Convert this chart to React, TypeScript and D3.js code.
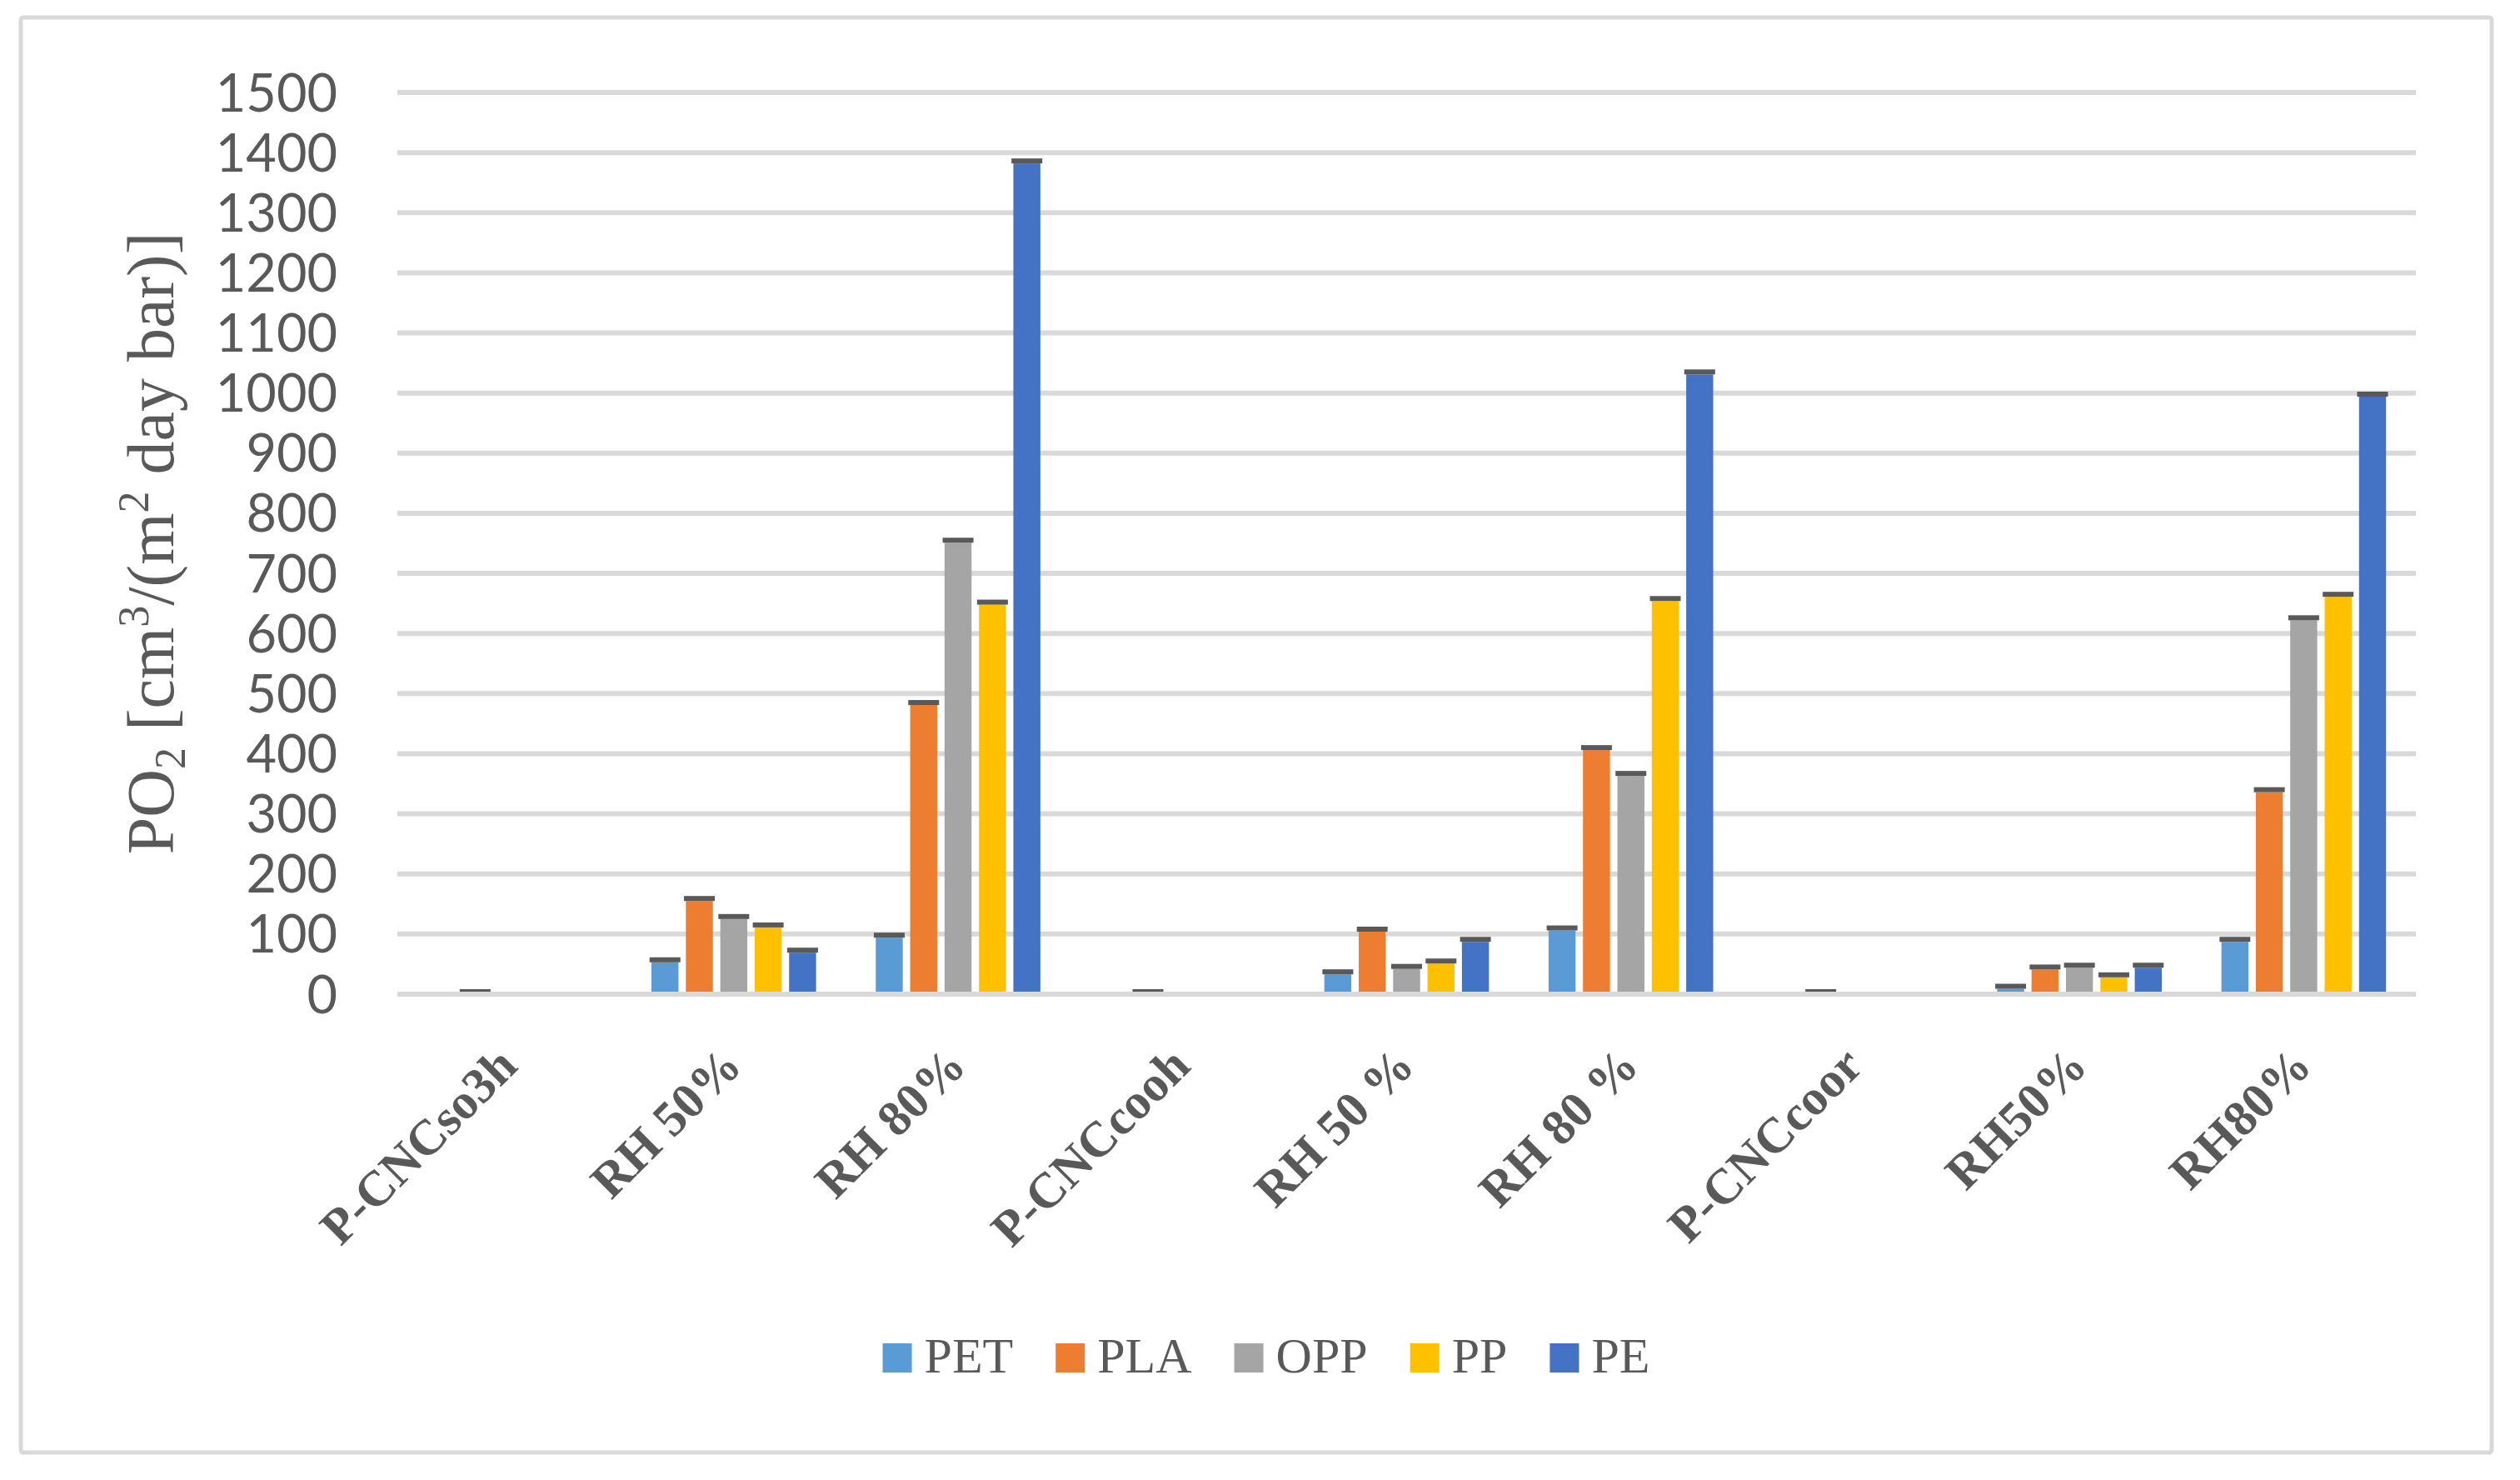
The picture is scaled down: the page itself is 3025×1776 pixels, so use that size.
import React, { useEffect, useRef } from 'react';
import * as d3 from 'd3';

const categories = ['P-CNCso3h', 'RH 50%', 'RH 80%', 'P-CNCcooh', 'RH 50 %', 'RH 80 %', 'P-CNCcoor', 'RH50%', 'RH80%'];
const seriesNames = ['PET', 'PLA', 'OPP', 'PP', 'PE'];
const seriesColors = ['#5B9BD5', '#ED7D31', '#A5A5A5', '#FFC000', '#4472C4'];

const petValues = [null, 53, 94, null, 33, 106, null, 9, 87];
const plaValues = [0, 155, 481, 0, 104, 406, 0, 41, 336];
const oppValues = [null, 125, 751, null, 42, 363, null, 44, 622];
const ppValues = [null, 111, 648, null, 51, 654, null, 28, 661];
const peValues = [null, 69, 1382, null, 87, 1031, null, 44, 994];

const yTicks = [0, 100, 200, 300, 400, 500, 600, 700, 800, 900, 1000, 1100, 1200, 1300, 1400, 1500];

const W = 3025, H = 1776;
const plot = { left: 477, right: 2900, top: 111, bottom: 1193 };
const textColor = '#595959';
const gridColor = '#D9D9D9';

const App: React.FC = () => {
  const ref = useRef<SVGSVGElement>(null);

  useEffect(() => {
    document.body.style.margin = '0';
    if (!ref.current) return;
    const svg = d3.select(ref.current);
    svg.selectAll('*').remove();

    const values = [petValues, plaValues, oppValues, ppValues, peValues];

    // chart frame
    svg.append('rect')
      .attr('x', 25).attr('y', 21)
      .attr('width', 2966).attr('height', 1722)
      .attr('rx', 3)
      .attr('fill', '#fff')
      .attr('stroke', gridColor)
      .attr('stroke-width', 5);

    const y = d3.scaleLinear().domain([0, 1500]).range([plot.bottom, plot.top]);
    const x0 = d3.scaleBand<string>().domain(categories).range([plot.left, plot.right]).padding(0);
    const x1 = d3.scaleBand<string>()
      .domain(seriesNames)
      .range([0, x0.bandwidth()])
      .paddingInner(0.215)
      .paddingOuter(0.867);

    // gridlines
    svg.append('g')
      .selectAll('line')
      .data(yTicks.filter(t => t > 0))
      .enter()
      .append('line')
      .attr('x1', plot.left).attr('x2', plot.right)
      .attr('y1', d => y(d)).attr('y2', d => y(d))
      .attr('stroke', gridColor)
      .attr('stroke-width', 6);

    // y tick labels
    svg.append('g')
      .selectAll('text')
      .data(yTicks)
      .enter()
      .append('text')
      .attr('x', 405)
      .attr('y', d => y(d) + 22.5)
      .attr('text-anchor', 'end')
      .attr('font-family', 'Lato')
      .attr('font-size', 63)
      .attr('fill', textColor)
      .text(d => String(d));

    // bars + error caps
    seriesNames.forEach((name, si) => {
      const g = svg.append('g');
      const cells = categories
        .map((c, ci) => ({ c, v: values[si][ci] as number | null }))
        .filter(d => d.v !== null) as { c: string, v: number }[];

      g.selectAll('rect.bar')
        .data(cells)
        .enter()
        .append('rect')
        .attr('class', 'bar')
        .attr('x', d => (x0(d.c) ?? 0) + (x1(name) ?? 0))
        .attr('y', d => y(d.v))
        .attr('width', x1.bandwidth())
        .attr('height', d => plot.bottom - y(d.v))
        .attr('fill', seriesColors[si]);

      g.selectAll('rect.cap')
        .data(cells)
        .enter()
        .append('rect')
        .attr('class', 'cap')
        .attr('x', d => (x0(d.c) ?? 0) + (x1(name) ?? 0) + x1.bandwidth() / 2 - 18.5)
        .attr('y', d => y(d.v) - 6)
        .attr('width', 37)
        .attr('height', 6)
        .attr('fill', '#595959');
    });

    // category axis line
    svg.append('line')
      .attr('x1', plot.left).attr('x2', plot.right)
      .attr('y1', y(0)).attr('y2', y(0))
      .attr('stroke', gridColor)
      .attr('stroke-width', 6);

    // category labels
    svg.append('g')
      .selectAll('text')
      .data(categories)
      .enter()
      .append('text')
      .attr('transform', d => `translate(${(x0(d) ?? 0) + x0.bandwidth() / 2 + 12},${plot.bottom + 89}) rotate(-45)`)
      .attr('text-anchor', 'end')
      .attr('font-family', '"Liberation Serif", serif')
      .attr('font-weight', 'bold')
      .attr('font-size', 60)
      .attr('fill', textColor)
      .text(d => d);

    // y axis title
    const title = svg.append('text')
      .attr('transform', `translate(208,${(plot.top + plot.bottom) / 2}) rotate(-90)`)
      .attr('text-anchor', 'middle')
      .attr('font-family', '"Liberation Serif", serif')
      .attr('font-size', 80)
      .attr('fill', textColor);
    title.append('tspan').text('PO');
    title.append('tspan').attr('font-size', 52).attr('dy', 14).text('2');
    title.append('tspan').attr('dy', -14).text(' [cm');
    title.append('tspan').attr('font-size', 52).attr('dy', -30).text('3');
    title.append('tspan').attr('dy', 30).text('/(m');
    title.append('tspan').attr('font-size', 52).attr('dy', -30).text('2');
    title.append('tspan').attr('dy', 30).text(' day bar)]');

    // legend
    const legend = svg.append('g');
    let cursor = 0;
    seriesNames.forEach((name, i) => {
      const item = legend.append('g').attr('transform', `translate(${cursor},0)`);
      item.append('rect')
        .attr('x', 0).attr('y', 1612)
        .attr('width', 35).attr('height', 35)
        .attr('fill', seriesColors[i]);
      const t = item.append('text')
        .attr('x', 50).attr('y', 1647)
        .attr('font-family', '"Liberation Serif", serif')
        .attr('font-size', 60)
        .attr('fill', textColor)
        .text(name);
      const len = (t.node() as SVGTextElement).getComputedTextLength();
      cursor += 50 + len + (i < seriesNames.length - 1 ? 51 : 0);
    });
    legend.attr('transform', `translate(${1520 - cursor / 2},0)`);
  }, []);

  return <svg ref={ref} width={W} height={H} style={{ display: 'block', background: '#fff' }} />;
};

export default App;
